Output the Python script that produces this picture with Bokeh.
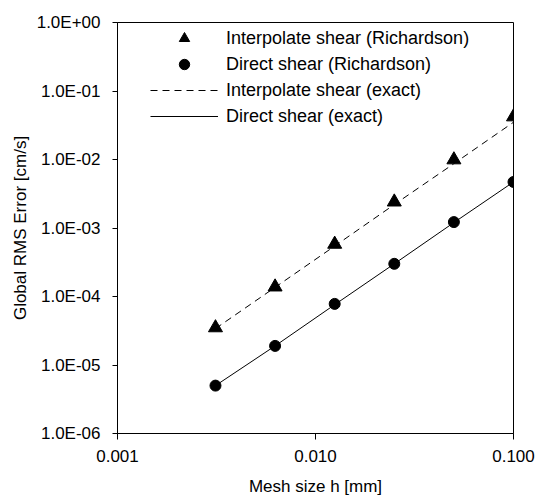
from bokeh.plotting import figure
from bokeh.models import (Range1d, FixedTicker, CustomJSTickFormatter, Legend, LegendItem)
from bokeh.embed import file_html
from bokeh.resources import INLINE

# Mesh sizes h [mm]
mesh_h = [0.003125, 0.00625, 0.0125, 0.025, 0.05, 0.1]

# Global RMS error [cm/s], Richardson-extrapolated estimates
interp_richardson = [3.5e-5, 1.38e-4, 5.8e-4, 2.4e-3, 9.9e-3, 4.2e-2]
direct_richardson = [5.0e-6, 1.9e-5, 7.8e-5, 3.0e-4, 1.22e-3, 4.7e-3]

# Global RMS error [cm/s] against the exact solution
interp_exact = [3.4e-5, 1.36e-4, 5.45e-4, 2.2e-3, 8.7e-3, 3.5e-2]
direct_exact = [5.0e-6, 1.9e-5, 7.6e-5, 3.0e-4, 1.2e-3, 4.7e-3]

y_ticks = [1e-6, 1e-5, 1e-4, 1e-3, 1e-2, 1e-1, 1e0]
x_ticks = [0.001, 0.01, 0.1]

FONT = "Liberation Sans"

p = figure(width=547, height=498, x_axis_type="log", y_axis_type="log",
           x_range=Range1d(0.001, 0.1), y_range=Range1d(1e-6, 1.0),
           output_backend="svg", toolbar_location=None,
           min_border_left=117, min_border_right=34,
           min_border_top=22, min_border_bottom=63)
p.xgrid.visible = False
p.ygrid.visible = False
p.outline_line_color = "#000000"
p.outline_line_width = 1
p.background_fill_color = "white"
p.border_fill_color = "white"

for ax in (p.xaxis[0], p.yaxis[0]):
    ax.axis_line_color = "#000000"
    ax.major_tick_line_color = "#000000"
    ax.minor_tick_line_color = None
    ax.major_tick_in = 0
    ax.major_label_text_font = FONT
    ax.major_label_text_font_size = "17px"
    ax.major_label_text_color = "#000000"
    ax.axis_label_text_font = FONT
    ax.axis_label_text_font_size = "17px"
    ax.axis_label_text_font_style = "normal"
    ax.axis_label_text_color = "#000000"

p.yaxis[0].ticker = FixedTicker(ticks=y_ticks, minor_ticks=[])
p.yaxis[0].major_tick_out = 5
p.yaxis[0].major_label_standoff = 12
p.yaxis[0].axis_label = "Global RMS Error [cm/s]"
p.yaxis[0].axis_label_standoff = 4
p.yaxis[0].formatter = CustomJSTickFormatter(code="""
    const s = tick.toExponential(1);
    const parts = s.split('e');
    const sign = parts[1][0];
    const digits = parts[1].slice(1).padStart(2, '0');
    return parts[0] + 'E' + sign + digits;
""")

p.xaxis[0].ticker = FixedTicker(ticks=x_ticks, minor_ticks=[])
p.xaxis[0].major_tick_out = 6
p.xaxis[0].major_label_standoff = 10
p.xaxis[0].axis_label = "Mesh size h [mm]"
p.xaxis[0].axis_label_standoff = 12
p.xaxis[0].formatter = CustomJSTickFormatter(code="return tick.toFixed(3);")

# Exact-solution error curves
r_ie = p.line(mesh_h, interp_exact, line_color="#000000", line_width=1, line_dash="7 5")
r_de = p.line(mesh_h, direct_exact, line_color="#000000", line_width=1)

# Richardson estimates
r_ir = p.scatter(mesh_h, interp_richardson, marker="triangle", size=14,
                 fill_color="#000000", line_color="#000000")
r_dr = p.scatter(mesh_h, direct_richardson, marker="circle", size=11,
                 fill_color="#000000", line_color="#000000")

legend = Legend(items=[
    LegendItem(label="Interpolate shear (Richardson)", renderers=[r_ir]),
    LegendItem(label="Direct shear (Richardson)", renderers=[r_dr]),
    LegendItem(label="Interpolate shear (exact)", renderers=[r_ie]),
    LegendItem(label="Direct shear (exact)", renderers=[r_de]),
], location=(33, 304), orientation="vertical",
    glyph_width=68, glyph_height=26, label_height=20, spacing=0,
    label_standoff=8, padding=0, margin=0,
    label_text_font=FONT, label_text_font_size="18px", label_text_color="#000000",
    background_fill_alpha=0, border_line_alpha=0)
p.add_layout(legend)

open("out.html", "w").write(file_html(p, INLINE))
